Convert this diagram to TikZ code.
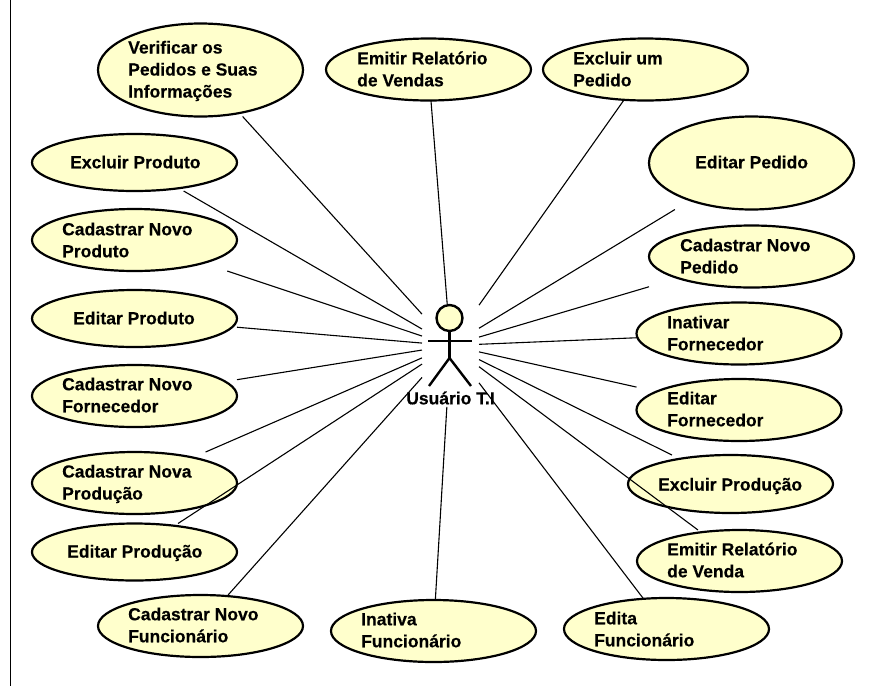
\documentclass[tikz,border=0pt]{standalone}
\usepackage{fontspec}
\setmainfont[BoldFeatures={FakeBold=0.4}]{Liberation Sans}
\usetikzlibrary{shapes.geometric}
\tikzset{
  ucshape/.style={draw=black,fill=ucfill,line width=2.2pt,ellipse,inner sep=0pt,outer sep=0pt,minimum width=205pt},
  ucbox/.style={inner sep=0pt,outer sep=0pt,minimum width=205pt},
  uctext/.style={anchor=west,inner sep=0pt,align=left,text=black,font=\fontsize{17.5}{22}\selectfont\bfseries},
  link/.style={draw=black,line width=1.1pt},
  stick/.style={draw=black,line width=2.4pt},
}
\definecolor{ucfill}{HTML}{FFFFCC}
% name, cx, cy, height, text x, text y, text
\newcommand{\ucase}[7]{%
  \node[ucshape,minimum height=#4pt] (#1) at (#2,#3) {};
  \node[ucbox,minimum height=#4pt] (#1box) at (#2,#3) {};
  \node[uctext] (#1t) at (#5,#6) {#7};
}
\begin{document}
\begin{tikzpicture}[x=1pt,y=-1pt]
\useasboundingbox (0,0) rectangle (878,686);
\fill[white] (0,0) rectangle (878,686);
\coordinate (ltop) at (10.5,0);
\coordinate (lbot) at (10.5,686);
\draw[draw=black,line width=1pt] (ltop) -- (lbot);

\ucase{a}{200.5}{70}{93}{128}{71}{Verificar os\\Pedidos e Suas\\Informações}
\ucase{b}{428.5}{69.5}{62}{357}{69}{Emitir Relatório\\de Vendas}
\ucase{c}{645.5}{69.5}{62}{573}{69}{Excluir um\\Pedido}
\ucase{d}{134.5}{162.5}{57}{70}{162}{Excluir Produto}
\ucase{e}{751.5}{163}{93}{695}{162}{Editar Pedido}
\ucase{f}{134.5}{240}{62}{62}{240}{Cadastrar Novo\\Produto}
\ucase{g}{751.5}{256.5}{62}{680}{256}{Cadastrar Novo\\Pedido}
\ucase{h}{134.5}{318.5}{57}{73}{318}{Editar Produto}
\ucase{i}{739}{333.5}{62}{667}{333}{Inativar\\Fornecedor}
\ucase{j}{134.5}{396}{62}{62}{395}{Cadastrar Novo\\Fornecedor}
\ucase{k}{739}{410}{62}{667}{409}{Editar\\Fornecedor}
\ucase{l}{134.5}{483}{62}{62}{484}{Cadastrar Nova\\Produção}
\ucase{m}{730.5}{484}{58}{658}{486}{Excluir Produção}
\ucase{n}{134.5}{552}{57}{67}{553}{Editar Produção}
\ucase{o}{739.5}{561}{62}{667}{560}{Emitir Relatório\\de Venda}
\ucase{p}{200.5}{626}{62}{128}{625}{Cadastrar Novo\\Funcionário}
\ucase{q}{433.5}{631}{62}{361}{630}{Inativa\\Funcionário}
\ucase{r}{666.5}{629}{62}{594}{629}{Edita\\Funcionário}

% invisible box round the actor: connectors aim at its centre and stop at its edge
\node[inner sep=0pt,outer sep=0pt,minimum width=57pt,minimum height=83pt] (actor) at (450.5,345.5) {};

\foreach \n in {a,b,c,d,e,f,g,h,i,j,k,l,m,n,o,p,r}
  \draw[link] (\n box) -- (actor);
\draw[link,shorten >=20pt] (qbox) -- (actor);

% stick figure
\node[circle,draw=black,fill=ucfill,line width=2.4pt,minimum size=26pt,inner sep=0pt,outer sep=0pt] (head) at (449.5,318) {};
\coordinate (neck) at (449.5,331);
\coordinate (hip) at (449.5,358);
\coordinate (arml) at (428,341);
\coordinate (armr) at (472,341);
\coordinate (legl) at (429,386);
\coordinate (legr) at (471,386);
\draw[stick] (head) -- (hip);
\draw[stick] (arml) -- (armr);
\draw[stick] (legl) -- (hip) -- (legr);
\node[uctext,anchor=center] (actorlabel) at (450.5,398) {Usuário T.I};
\end{tikzpicture}
\end{document}
